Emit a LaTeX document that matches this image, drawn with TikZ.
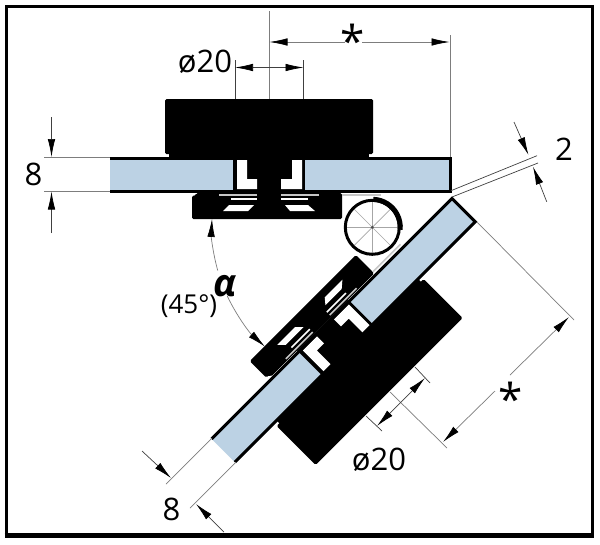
\documentclass[tikz,border=0pt]{standalone}
\usepackage{fontspec}
\setmainfont{Open Sans}
\usetikzlibrary{arrows.meta,calc}
\definecolor{glass}{RGB}{188,210,228}
\definecolor{dimgray}{RGB}{125,125,125}
\newcommand{\uvbox}[4]{(#1,#2) -- (#3,#2) -- (#3,#4) -- (#1,#4) -- cycle}
\newcommand{\hingeparts}{%
  % glass
  \fill[glass] \uvbox{0}{0}{146}{35};
  \fill[glass] \uvbox{218}{0}{341}{35};
  % stem and gap
  \fill[black] \uvbox{146}{0}{218}{35};
  \fill[white] (149,33) -- (159,33) -- (159,13) -- (170,13) -- (170,3) -- (149,3) -- cycle;
  \fill[white] (214,33) -- (204,33) -- (204,13) -- (194,13) -- (194,3) -- (214,3) -- cycle;
  % glass edges
  \draw[edge] (341,34) -- (1,34) -- (1,1) -- (341,1);
  % clamp
  \fill[black,rounded corners=1.5pt] (109,-1) -- (255,-1) -- (255,-3.5) -- (259,-3.5) -- (259,-27) -- (109,-27) -- cycle;
  \fill[black] \uvbox{146}{-1}{218}{1};
  \fill[white] (228,-19) -- (203,-19) -- (197,-13) -- (222,-13) -- cycle;
  \fill[white] (166,-13) -- (143,-13) -- (136,-19) -- (161,-19) -- cycle;
  \draw[slit] (194,-3) -- (232,-3);
  \draw[slit] (132,-3) -- (170,-3);
  \draw[slitw] (194,-7) -- (220,-7);
  \draw[slitw] (143,-7) -- (170,-7);
  \draw[slit] (109,-3) -- (70,-3);
  % knob
  \fill[black,rounded corners=1.5pt] \uvbox{78}{38}{286}{93};
  \fill[black] \uvbox{82}{34}{282}{40};
}
\tikzset{
  edge/.style={line width=3pt,black},
  slit/.style={line width=1.6pt,gray!45},
  slitw/.style={line width=1.6pt,white},
  dimline/.style={line width=0.7pt,dimgray},
  darkline/.style={line width=0.7pt,black!75},
  dimtip/.style={>={Latex[length=18pt,width=7.5pt,black]}},
  lab/.style={inner sep=0pt,font=\fontsize{31}{36}\selectfont},
  labsmall/.style={inner sep=0pt,font=\fontsize{26}{30}\selectfont},
  star/.style={inner sep=0pt,font=\fontsize{44}{50}\selectfont},
  alphalab/.style={inner sep=0pt,font=\fontsize{38}{44}\selectfont\bfseries\itshape}
}
\begin{document}
\begin{tikzpicture}[x=1pt,y=-1pt]
\useasboundingbox (0,0) rectangle (600,544);
\fill[white] (0,0) rectangle (600,544);
\draw[line width=3pt,black] (6,6.5) rectangle (592.5,535.5);
\draw[line width=4.5pt,black] (4.5,535.5) -- (594,535.5);

% top assembly
\begin{scope}[x={(-1pt,0pt)},y={(0pt,1pt)},shift={(451pt,-192pt)}]
\hingeparts
\end{scope}
% angled assembly
\begin{scope}[x={(-0.7071pt,-0.7071pt)},y={(0.7071pt,-0.7071pt)},shift={(452pt,-197pt)}]
\hingeparts
\end{scope}

% hinge
\coordinate (H) at (372.3,227.3);
\fill[white] (H) circle (26);
\foreach \a in {0,45,...,315}
  \draw[line width=0.6pt,gray!70] (H) -- ++(\a:26);
\draw[line width=3pt,black] (H) circle (27);
\draw[line width=5pt,black] ($(H)+(-88:28)$) arc (-88:5:28);
\fill[black!70] (H) circle (1.6);

% top dimensions
\draw[dimline] (269,11) -- (269,99);
\draw[darkline] (235,60) -- (235,99);
\draw[darkline] (303.5,60) -- (303.5,99);
\draw[darkline,dimtip,<->] (235,67.5) -- (303.5,67.5);
\draw[dimline] (450,35) -- (450,157);
\draw[dimline,dimtip,<-] (269.5,42) -- (345,42);
\draw[dimline,dimtip,->] (362,42) -- (449.5,42);
\node[star] (s1) at (352.5,41) {*};
\node[lab] (d1) at (205,62) {ø20};

% left 8
\draw[dimline] (44,157) -- (110,157);
\draw[dimline] (44,191) -- (110,191);
\draw[darkline,dimtip,->] (51.5,117) -- (51.5,157);
\draw[darkline,dimtip,->] (51.5,233) -- (51.5,191.5);
\node[lab] (e1) at (33.5,174) {8};

% 2
\draw[darkline] (451,190.7) -- (537,155.7);
\draw[darkline] (452,197) -- (538,163);
\draw[darkline,dimtip,->] (514,122) -- (528.5,155);
\draw[darkline,dimtip,->] (546.7,201.7) -- (533,166.7);
\node[lab] (t1) at (564,149) {2};

% alpha
\draw[dimline,dimtip,->] ($(H)+(164.4:160.5)$) arc (164.4:183:160.5);
\draw[dimline,dimtip,->] ($(H)+(154.6:160.5)$) arc (154.6:132:160.5);
\node[alphalab] (al) at (225.5,286) {α};
\node[labsmall] (deg) at (189,306) {(45°)};

% angled star dimension
\draw[dimline] (477,222) -- (574,320);
\draw[dimline] (390,392) -- (447,448);
\draw[dimline,dimtip,->] (510,375) -- (569,317);
\draw[dimline,dimtip,->] (495,391) -- (443,442);
\node[star] (s2) at (510.5,399) {*};

% angled dia dimension
\draw[darkline] (415,367) -- (430,383);
\draw[darkline] (366,416) -- (382,431);
\draw[darkline,dimtip,<->] (377,426) -- (425,378);
\node[lab] (d2) at (379,460) {ø20};

% angled 8
\draw[dimline] (212,438) -- (166,484);
\draw[dimline] (236,462) -- (190,508);
\draw[darkline,dimtip,->] (142,451) -- (171,478);
\draw[darkline,dimtip,->] (224,532) -- (196,504);
\node[lab] (e2) at (171.5,509) {8};
\end{tikzpicture}
\end{document}
